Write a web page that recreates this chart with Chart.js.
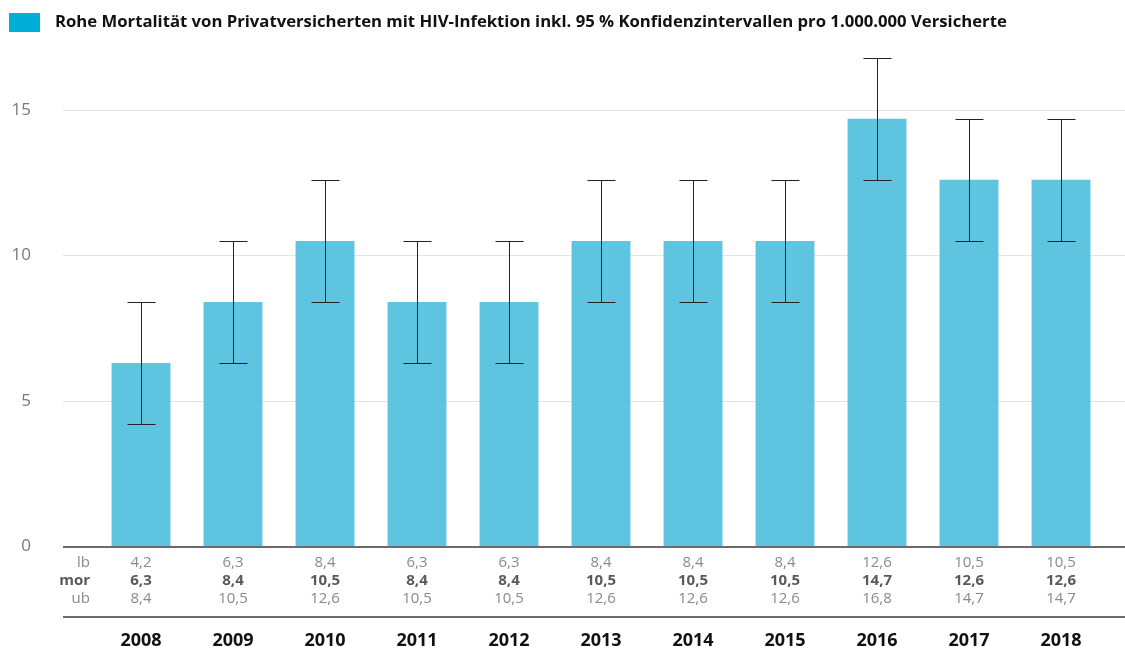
<!DOCTYPE html>
<html>
<head>
<meta charset="utf-8">
<script src="https://cdn.jsdelivr.net/npm/chart.js@4"></script>
<style>
  html, body { margin: 0; padding: 0; background: #fff; }
  #wrap { width: 1125px; height: 649px; position: relative; }
</style>
</head>
<body>
<div id="wrap"><canvas id="mortGraph"></canvas></div>
<script>
const years = ["2008", "2009", "2010", "2011", "2012", "2013", "2014", "2015", "2016", "2017", "2018"];
const mor = [6.3, 8.4, 10.5, 8.4, 8.4, 10.5, 10.5, 10.5, 14.7, 12.6, 12.6];
const lb = [4.2, 6.3, 8.4, 6.3, 6.3, 8.4, 8.4, 8.4, 12.6, 10.5, 10.5];
const ub = [8.4, 10.5, 12.6, 10.5, 10.5, 12.6, 12.6, 12.6, 16.8, 14.7, 14.7];
const yTicks = [0, 5, 10, 15];
const seriesName = "Rohe Mortalität von Privatversicherten mit HIV-Infektion inkl. 95 % Konfidenzintervallen pro 1.000.000 Versicherte";

const fontName = "'Open Sans', sans-serif";
const fmt = (v) => v.toFixed(1).replace(".", ",");

// legend, grid, error bars, table underneath
const extras = {
  id: "extras",
  beforeDatasetsDraw(chart) {
    const ctx = chart.ctx;
    const y = chart.scales.y;
    ctx.save();
    // legend
    ctx.fillStyle = "#00afd6";
    ctx.fillRect(9, 13, 31, 19);
    ctx.font = "bold 16.7px " + fontName;
    ctx.fillStyle = "#111";
    ctx.textBaseline = "middle";
    ctx.textAlign = "left";
    ctx.fillText(chart.data.datasets[0].label, 55, 22);
    // grid
    ctx.strokeStyle = "#e3e3e3";
    ctx.lineWidth = 1;
    yTicks.forEach((t) => {
      if (t === 0) return;
      const py = Math.round(y.getPixelForValue(t)) + 0.5;
      ctx.beginPath();
      ctx.moveTo(63, py);
      ctx.lineTo(1125, py);
      ctx.stroke();
    });
    ctx.restore();
  },
  afterDatasetsDraw(chart) {
    const ctx = chart.ctx;
    const x = chart.scales.x;
    const y = chart.scales.y;
    ctx.save();
    // error bars
    ctx.strokeStyle = "#222";
    ctx.lineWidth = 1;
    years.forEach((yr, i) => {
      const px = Math.round(x.getPixelForValue(i)) + 0.5;
      const top = Math.round(y.getPixelForValue(ub[i])) + 0.5;
      const bot = Math.round(y.getPixelForValue(lb[i])) + 0.5;
      ctx.beginPath();
      ctx.moveTo(px, top);
      ctx.lineTo(px, bot);
      ctx.moveTo(px - 14, top);
      ctx.lineTo(px + 14, top);
      ctx.moveTo(px - 14, bot);
      ctx.lineTo(px + 14, bot);
      ctx.stroke();
    });
    // axis lines
    const zero = Math.round(y.getPixelForValue(0));
    ctx.strokeStyle = "#6b6b6b";
    ctx.lineWidth = 2;
    ctx.beginPath();
    ctx.moveTo(63, zero + 1);
    ctx.lineTo(1125, zero + 1);
    ctx.moveTo(63, zero + 71);
    ctx.lineTo(1125, zero + 71);
    ctx.stroke();
    // table rows
    ctx.textBaseline = "middle";
    const rows = [
      { name: "lb", vals: lb, dy: 17, bold: false, color: "#8a8a8a" },
      { name: "mor", vals: mor, dy: 35, bold: true, color: "#5a5a5a" },
      { name: "ub", vals: ub, dy: 53, bold: false, color: "#8a8a8a" },
    ];
    rows.forEach((r) => {
      ctx.font = (r.bold ? "bold " : "") + "15px " + fontName;
      ctx.fillStyle = r.color;
      ctx.textAlign = "right";
      ctx.fillText(r.name, 90, zero + r.dy);
      ctx.textAlign = "center";
      r.vals.forEach((v, i) => {
        ctx.fillText(fmt(v), x.getPixelForValue(i), zero + r.dy);
      });
    });
    ctx.font = "bold 18px " + fontName;
    ctx.fillStyle = "#111";
    ctx.textAlign = "center";
    years.forEach((yr, i) => {
      ctx.fillText(yr, x.getPixelForValue(i), zero + 95);
    });
    ctx.restore();
  },
};

Chart.defaults.font.family = fontName;
Chart.defaults.font.size = 16;

const mortGraph = document.getElementById("mortGraph").getContext("2d");
const mortChart = new Chart(mortGraph, {
  type: "bar",
  data: {
    labels: years,
    datasets: [
      {
        label: seriesName,
        data: mor,
        backgroundColor: "#5fc4df",
        barPercentage: 0.64,
        categoryPercentage: 1,
      },
    ],
  },
  options: {
    responsive: true,
    maintainAspectRatio: false,
    animation: false,
    layout: { padding: { left: 0, right: 18, top: 52, bottom: 103 } },
    plugins: {
      tooltip: { enabled: false },
      legend: { display: false },
    },
    scales: {
      x: { display: false },
      y: {
        min: 0,
        max: 17,
        afterBuildTicks: (scale) => {
          scale.ticks = yTicks.map((v) => ({ value: v }));
        },
        afterFit: (scale) => {
          scale.width = 95;
          scale.paddingTop = 0;
          scale.paddingBottom = 0;
        },
        grid: { display: false, drawTicks: false },
        border: { display: false },
        ticks: {
          padding: 64,
          color: "#7a7a7a",
          font: { size: 17, family: fontName },
        },
      },
    },
  },
  plugins: [extras],
});
</script>
</body>
</html>
